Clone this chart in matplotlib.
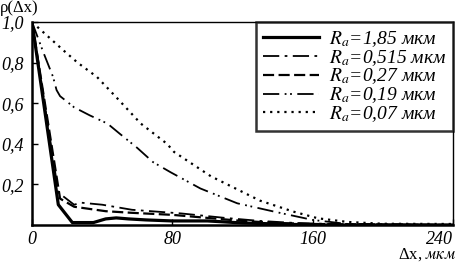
import matplotlib
matplotlib.use('Agg')
import matplotlib.pyplot as plt

plt.rcParams['font.family'] = ['Liberation Serif', 'DejaVu Serif']
plt.rcParams['mathtext.fontset'] = 'stix'

# values
x_185 = [0, 15, 23, 35, 42, 48, 55, 65, 80, 100, 120, 140, 160, 240]
y_185 = [1.0, 0.10, 0.012, 0.012, 0.03, 0.035, 0.03, 0.025, 0.02, 0.02, 0.01, 0.005, 0.0, 0.0]

x_0515 = [0, 15, 24, 28, 40, 57, 85, 110, 130, 150, 170, 240]
y_0515 = [1.0, 0.16, 0.10, 0.11, 0.10, 0.075, 0.057, 0.035, 0.02, 0.01, 0.005, 0.0]

x_027 = [0, 16, 24, 42, 57, 80, 100, 120, 140, 160, 240]
y_027 = [1.0, 0.13, 0.09, 0.068, 0.06, 0.05, 0.035, 0.02, 0.01, 0.005, 0.0]

x_019 = [0, 6.5, 12, 14, 16, 24, 33, 43, 50, 60, 69, 79, 96, 117, 138, 160, 180, 240]
y_019 = [1.0, 0.85, 0.73, 0.665, 0.635, 0.58, 0.54, 0.50, 0.45, 0.38, 0.31, 0.26, 0.18,
         0.107, 0.066, 0.025, 0.005, 0.0]

x_007 = [0, 18, 26, 37, 48, 62, 77, 81, 102, 130, 149, 163, 180, 200, 240]
y_007 = [1.0, 0.86, 0.80, 0.73, 0.63, 0.50, 0.40, 0.36, 0.24, 0.12, 0.066, 0.033,
         0.015, 0.006, 0.005]

labels = ['$R_a$=1,85 мкм', '$R_a$=0,515 мкм', '$R_a$=0,27 мкм',
          '$R_a$=0,19 мкм', '$R_a$=0,07 мкм']
x_ticks = [0, 80, 160, 240]
y_ticks = [0.2, 0.4, 0.6, 0.8, 1.0]
y_ticklabels = ['0,2', '0,4', '0,6', '0,8', '1,0']

fig = plt.figure(figsize=(4.58, 2.63), dpi=100)
ax = fig.add_axes([0.0699, 0.1445, 0.919, 0.7715])

ax.plot(x_185, y_185, color='k', lw=2.3, linestyle='-', label=labels[0])
ax.plot(x_0515, y_0515, color='k', lw=1.3, linestyle=(0, (9, 3, 1.5, 3)), label=labels[1])
ax.plot(x_027, y_027, color='k', lw=1.6, linestyle=(0, (5, 2)), label=labels[2])
ax.plot(x_019, y_019, color='k', lw=1.3, linestyle=(0, (9, 3, 1, 2, 1, 3)), label=labels[3])
ax.plot(x_007, y_007, color='k', lw=1.6, linestyle=(0, (1, 2.2)), label=labels[4])

ax.set_xlim(0, 240)
ax.set_ylim(0, 1.0)
ax.set_xticks(x_ticks)
ax.set_xticklabels([str(v) for v in x_ticks], fontsize=13, style='italic')
ax.get_xticklabels()[-1].set_horizontalalignment('right')
ax.set_yticks(y_ticks)
ax.set_yticklabels(y_ticklabels, fontsize=13, style='italic')
ax.tick_params(direction='in', length=4, width=1, pad=6)
ax.tick_params(axis='x', pad=4)

for side in ['left', 'bottom']:
    ax.spines[side].set_linewidth(1.8)
for side in ['top', 'right']:
    ax.spines[side].set_linewidth(1.0)

fig.text(0.0, 1.0, 'ρ(Δx)', fontsize=12, ha='left', va='top')
fig.text(0.995, 0.0, 'Δx, $\\mathit{мкм}$', fontsize=12, ha='right', va='bottom')

leg = ax.legend(loc='upper right', fontsize=14, frameon=True, fancybox=False,
                borderaxespad=0.0, handlelength=2.9, labelspacing=-0.05,
                borderpad=0.35, handletextpad=0.5)
leg.get_frame().set_edgecolor('k')
leg.get_frame().set_linewidth(1.8)
for t in leg.get_texts():
    t.set_style('italic')

fig.savefig('out.png', dpi=100)
